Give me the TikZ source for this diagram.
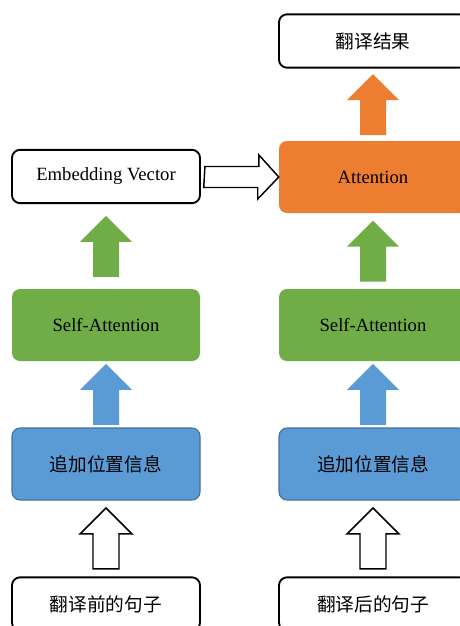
\documentclass[tikz,border=0pt]{standalone}
\usepackage{fontspec}
\setmainfont{Liberation Serif}
\newfontfamily\cjk{Noto Sans CJK SC}
\usetikzlibrary{calc}
\definecolor{attnorange}{HTML}{ED7D31}
\definecolor{selfgreen}{HTML}{70AD47}
\definecolor{posblue}{HTML}{5B9BD5}
\definecolor{posedge}{HTML}{41719C}
% block arrow pointing up, halfway between two stacked nodes
\newcommand{\uparr}[3]{%
  \path[#1] ($(#2.north)!0.5!(#3.south)$) ++(-13,30.5) -- ++(0,-35) -- ++(-13,0)
    -- ++(26,-26) -- ++(26,26) -- ++(-13,0) -- ++(0,35) -- cycle;}
\begin{document}
\begin{tikzpicture}[x=0.75pt,y=-0.75pt,
  every node/.style={font=\fontsize{14}{16}\selectfont},
  box/.style={rounded corners=6pt,minimum width=141pt,inner sep=0pt},
  whitebox/.style={box,draw,line width=1.4pt,fill=white,minimum height=40pt},
  attnbox/.style={box,fill=attnorange,minimum height=54pt},
  selfbox/.style={box,fill=selfgreen,minimum height=54pt},
  posbox/.style={box,fill=posblue,draw=posedge,line width=0.8pt,minimum height=54pt},
  hollow/.style={draw,fill=white,line width=1.1pt,line join=miter}]
\useasboundingbox (0,0) rectangle (460,626);
\clip (0,0) rectangle (460,626);
% left column
\node[whitebox] (embed) at (106,176.5) {Embedding Vector};
\node[selfbox] (selfL) at (106,325) {Self-Attention};
\node[posbox] (posL) at (106,464) {\cjk 追加位置信息};
\node[whitebox] (srcL) at (106,604) {\cjk 翻译前的句子};
% right column
\node[whitebox] (result) at (373,41) {\cjk 翻译结果};
\node[attnbox] (attn) at (373,177) {Attention};
\node[selfbox] (selfR) at (373,325) {Self-Attention};
\node[posbox] (posR) at (373,464) {\cjk 追加位置信息};
\node[whitebox] (srcR) at (373,604) {\cjk 翻译后的句子};
% arrows
\uparr{hollow}{srcL}{posL}
\uparr{hollow}{srcR}{posR}
\uparr{fill=posblue}{posL}{selfL}
\uparr{fill=posblue}{posR}{selfR}
\uparr{fill=selfgreen}{selfL}{embed}
\uparr{fill=selfgreen}{selfR}{attn}
\uparr{fill=attnorange}{attn}{result}
\path[hollow] ($(embed.east)+(4,-10)$) -- ++(54,0) -- ++(0,-11.5) -- (attn.west)
  -- ++(-21,22) -- ++(0,-11.5) -- ++(-54,0) -- cycle;
\end{tikzpicture}
\end{document}
